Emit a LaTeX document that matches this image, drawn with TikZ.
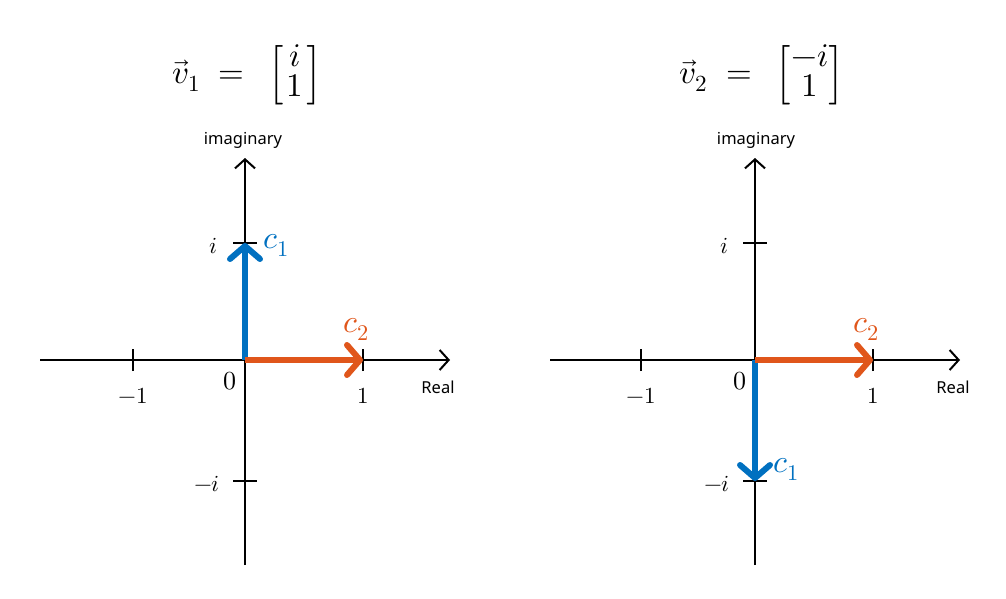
\documentclass[tikz,border=0pt]{standalone}
\usepackage{amsmath}
\usepackage{fontspec}
\usepackage{unicode-math}
\setmathfont{Latin Modern Math}
\newfontfamily\labelsans{Noto Sans}
\usetikzlibrary{arrows.meta}
\definecolor{vblue}{RGB}{0,112,192}
\definecolor{vorange}{RGB}{224,86,27}
\tikzset{
  axis/.style={line width=2pt, -{Straight Barb[length=9pt,width=20pt]}},
  tick/.style={line width=2pt},
  vec/.style={line width=6pt, -{Straight Barb[length=13pt,width=30pt,round]}},
  sanslbl/.style={font=\labelsans\fontsize{16.5}{18}\selectfont, inner sep=0pt},
  ticklbl/.style={font=\fontsize{23}{26}\selectfont, inner sep=0pt},
  zerolbl/.style={font=\fontsize{26}{28}\selectfont, inner sep=0pt},
  clbl/.style={font=\fontsize{32}{36}\selectfont, inner sep=0pt},
  title/.style={font=\fontsize{33}{36}\selectfont, inner sep=0pt}
}
\newcommand{\colvec}[2]{\left[\renewcommand{\arraystretch}{0.76}\begin{matrix}#1\\#2\end{matrix}\right]}
\begin{document}
\begin{tikzpicture}[x=1pt,y=-1pt]
\useasboundingbox (0,0) rectangle (1006,599);
% ---------- left plot ----------
\coordinate (O1) at (245,360);
\coordinate (xl1) at (40,360);
\coordinate (xr1) at (450,360);
\coordinate (yt1) at (245,158);
\coordinate (yb1) at (245,565);
\coordinate (p1) at (363,360);
\coordinate (m1) at (133,360);
\coordinate (i1) at (245,243);
\coordinate (mi1) at (245,481);
\draw[axis] (xl1) -- (xr1);
\draw[axis] (yb1) -- (yt1);
\draw[tick] ([yshift=-11pt]p1) -- ([yshift=11pt]p1);
\draw[tick] ([yshift=-11pt]m1) -- ([yshift=11pt]m1);
\draw[tick] ([xshift=-12pt]i1) -- ([xshift=12pt]i1);
\draw[tick] ([xshift=-12pt]mi1) -- ([xshift=12pt]mi1);
\draw[vec, vblue] (O1) -- (i1);
\draw[vec, vorange] (O1) -- (p1);
\node[title] (t1) at (247,75) {$\vec{v}_1 \;=\;\, \colvec{\,i\,}{1}$};
\node[sanslbl] (im1) at (243,140) {imaginary};
\node[sanslbl] (re1) at (438,387) {Real};
\node[ticklbl] (lm1) at (133,396) {$-1$};
\node[ticklbl] (lp1) at (363,396) {$1$};
\node[zerolbl] (lz1) at (230,381) {$0$};
\node[ticklbl] (li1) at (213,246) {$i$};
\node[ticklbl] (lmi1) at (207,484) {$-i$};
\node[clbl, text=vblue] (c11) at (276,245) {$c_1$};
\node[clbl, text=vorange] (c21) at (356,329) {$c_2$};
% ---------- right plot ----------
\coordinate (O2) at (755,360);
\coordinate (xl2) at (550,360);
\coordinate (xr2) at (960,360);
\coordinate (yt2) at (755,158);
\coordinate (yb2) at (755,565);
\coordinate (p2) at (873,360);
\coordinate (m2) at (641,360);
\coordinate (i2) at (755,243);
\coordinate (mi2) at (755,481);
\draw[axis] (xl2) -- (xr2);
\draw[axis] (yb2) -- (yt2);
\draw[tick] ([yshift=-11pt]p2) -- ([yshift=11pt]p2);
\draw[tick] ([yshift=-11pt]m2) -- ([yshift=11pt]m2);
\draw[tick] ([xshift=-12pt]i2) -- ([xshift=12pt]i2);
\draw[tick] ([xshift=-12pt]mi2) -- ([xshift=12pt]mi2);
\draw[vec, vblue] (O2) -- (mi2);
\draw[vec, vorange] (O2) -- (p2);
\node[title] (t2) at (762,75) {$\vec{v}_2 \;=\;\, \colvec{-i}{1}$};
\node[sanslbl] (im2) at (756,140) {imaginary};
\node[sanslbl] (re2) at (953,387) {Real};
\node[ticklbl] (lm2) at (641,396) {$-1$};
\node[ticklbl] (lp2) at (873,396) {$1$};
\node[zerolbl] (lz2) at (740,381) {$0$};
\node[ticklbl] (li2) at (724,246) {$i$};
\node[ticklbl] (lmi2) at (717,484) {$-i$};
\node[clbl, text=vblue] (c12) at (786,469) {$c_1$};
\node[clbl, text=vorange] (c22) at (866,329) {$c_2$};
\end{tikzpicture}
\end{document}
